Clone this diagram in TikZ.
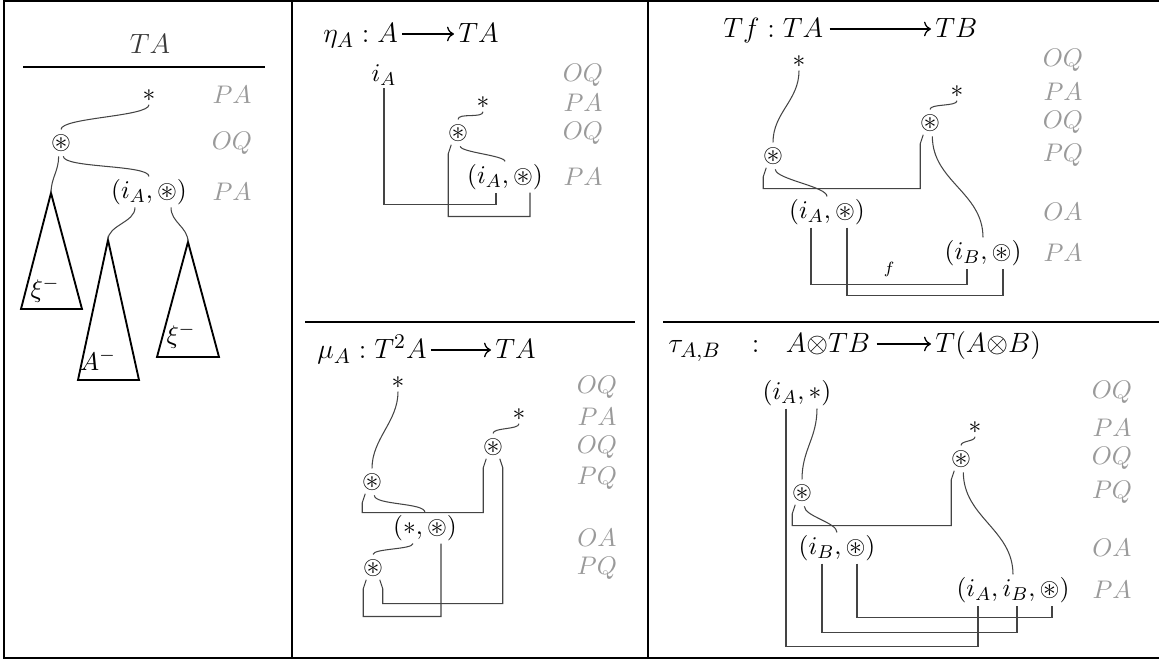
\documentclass[tikz,border=0pt]{standalone}
\usepackage{amssymb}
\usepackage{tikz}
\usetikzlibrary{calc,arrows.meta}
\definecolor{figWire}{HTML}{444444}
\definecolor{figMove}{HTML}{9A9A9A}
\definecolor{figDark}{HTML}{3A3A3A}

\begin{document}
\begin{tikzpicture}[
  % pixel grid: x goes right, y goes down
  x=0.43pt, y=-0.43pt,
  font=\fontsize{11}{13}\selectfont,
  ast/.style={circle, inner sep=0pt},
  term/.style={inner sep=1pt},
  move/.style={text=figMove, inner sep=1pt},
  wire/.style={draw=figWire, line width=0.45pt},
  tri/.style={draw=black, line width=0.8pt},
  frame/.style={draw=black, line width=0.8pt},
  head/.style={font=\fontsize{13}{15}\selectfont, inner sep=0pt, anchor=base west},
  hom/.style={line width=0.55pt, -{To[length=3pt]}},
]
\useasboundingbox (0,0) rectangle (1159,660);

% --- Frame ---
\draw[frame] (1159,1) -- (4,1) -- (4,658) -- (1159,658);
\draw[frame] (292,1) -- (292,658);
\draw[frame] (648,1) -- (648,658);
\draw[frame, line width=0.6pt] (305,322) -- (635,322);
\draw[frame, line width=1.1pt] (663,322) -- (1159,322);

% --- TA ---
\node[font=\fontsize{13}{15}\selectfont, text=figDark] (ta) at (150,44) {$TA$};
\draw[frame] (23,67) -- (265,67);
\node[term] (s1) at (149,96) {$*$};
\node[ast] (o1) at (61,143) {$\circledast$};
\node[term] (p1) at (149,192) {$(i_A,\circledast)$};
\foreach \y/\m [count=\k] in {95/PA,143/OQ,192/PA}
  \node[move] (m1-\k) at (232,\y) {$\m$};

\coordinate (x1) at (51,193);
\coordinate (x2) at (108,240);
\coordinate (x3) at (188,242);
\draw[tri] (x1) -- ++(-30,116) -- ++(61,0) -- cycle;
\draw[tri] (x2) -- ++(-30,140) -- ++(61,0) -- cycle;
\draw[tri] (x3) -- ++(-31,115) -- ++(62,0) -- cycle;
\node (x1l) at (45,290) {$\xi^-$};
\node (x2l) at (98,360) {$A^-$};
\node (x3l) at (181,336) {$\xi^-$};

\draw[wire] (s1.south) .. controls +(0,12) and +(0,-12) .. (o1.north);
\draw[wire] (o1.-80) .. controls +(0,12) and +(0,-12) .. (p1.north);
\draw[wire] (o1.-100) .. controls +(0,15) and +(0,-15) .. (x1);
\draw[wire] ($(p1.south)+(-14,0)$) .. controls +(0,15) and +(0,-15) .. (x2);
\draw[wire] ($(p1.south)+(22,0)$) .. controls +(0,15) and +(0,-15) .. (x3);

% --- eta ---
\node[head] (eta-l) at (323,43) {$\eta_A : A$};
\node[head] (eta-r) at (458,43) {$TA$};
\draw[hom] ($(eta-l.base east)+(4,-9)$) -- ($(eta-r.base west)+(-4,-9)$);
\node[term] (i2) at (384,75) {$i_A$};
\node[term] (s2) at (483,103) {$*$};
\node[ast] (o2) at (458,133) {$\circledast$};
\node[term] (p2) at (505,177) {$(i_A,\circledast)$};
\foreach \y/\m [count=\k] in {75/OQ,103/PA,133/OQ,177/PA}
  \node[move] (m2-\k) at (583,\y) {$\m$};

\draw[wire] (s2.south) .. controls +(0,7) and +(0,-7) .. (o2.north);
\draw[wire] (o2.-80) .. controls +(0,6) and +(0,-6) .. (p2.north);
\draw[wire] (i2.south) |- ($(p2.south)+(-9,12)$) -- ($(p2.south)+(-9,0)$);
\draw[wire] (o2.-120) -- ++(-3,9) |- ($(p2.south)+(25,24)$) -- ($(p2.south)+(25,0)$);

% --- Tf ---
\node[head] (tf-l) at (723,38) {$Tf : TA$};
\node[head] (tf-r) at (935,38) {$TB$};
\draw[hom] ($(tf-l.base east)+(6,-9)$) -- ($(tf-r.base west)+(-4,-9)$);
\node[term] (s3a) at (799,62) {$*$};
\node[term] (s3b) at (957,92) {$*$};
\node[ast] (o3r) at (930,123) {$\circledast$};
\node[ast] (o3l) at (773,156) {$\circledast$};
\node[term] (p3a) at (827,212) {$(i_A,\circledast)$};
\node[term] (p3b) at (983,253) {$(i_B,\circledast)$};
\foreach \y/\m [count=\k] in {60/OQ,92/PA,122/OQ,155/PQ,212/OA,253/PA}
  \node[move] (m3-\k) at (1063,\y) {$\m$};

\draw[wire] (s3a.south) .. controls +(0,30) and +(0,-30) .. (o3l.north);
\draw[wire] (s3b.south) .. controls +(0,6) and +(0,-6) .. (o3r.north);
\draw[wire] (o3r.-80) .. controls +(0,45) and +(0,-45) .. (p3b.north);
\draw[wire] (o3l.-80) .. controls +(0,10) and +(0,-10) .. (p3a.north);
\draw[wire] (o3l.-120) -- ++(-3,9) -- ++(0,12) -| ($(o3r.-120)+(-3,9)$) -- (o3r.-120);
\draw[wire] ($(p3a.south)+(-16,0)$) -- ++(0,57)
  -| node[pos=0.25, above, font=\scriptsize] (lf) {$f$} ($(p3b.south)+(-16,0)$);
\draw[wire] ($(p3a.south)+(20,0)$) -- ++(0,68) -| ($(p3b.south)+(20,0)$);

% --- mu ---
\node[head] (mu-l) at (317,359) {$\mu_A : T^2A$};
\node[head] (mu-r) at (495,359) {$TA$};
\draw[hom] ($(mu-l.base east)+(4,-9)$) -- ($(mu-r.base west)+(-4,-9)$);
\node[term] (s4a) at (398,383) {$*$};
\node[term] (s4b) at (519,415) {$*$};
\node[ast] (o4r) at (493,447) {$\circledast$};
\node[ast] (o4l) at (372,482) {$\circledast$};
\node[term] (p4) at (425,528) {$(*,\circledast)$};
\node[ast] (o4b) at (373,568) {$\circledast$};
\foreach \y/\m [count=\k] in {387/OQ,417/PA,447/OQ,478/PQ,538/OA,568/PQ}
  \node[move] (m4-\k) at (597,\y) {$\m$};

\draw[wire] (s4a.south) .. controls +(0,30) and +(0,-30) .. (o4l.north);
\draw[wire] (s4b.south) .. controls +(0,6) and +(0,-6) .. (o4r.north);
\draw[wire] (o4l.-80) .. controls +(0,10) and +(0,-10) .. (p4.north);
\draw[wire] (o4l.-120) -- ++(-3,9) -- ++(0,10) -| ($(o4r.-120)+(-3,9)$) -- (o4r.-120);
\draw[wire] ($(p4.south)+(-12,0)$) .. controls +(0,6) and +(0,-6) .. (o4b.north);
\draw[wire] ($(p4.south)+(16,0)$) -- ++(0,73) -| ($(o4b.-120)+(-3,9)$) -- (o4b.-120);
\draw[wire] (o4r.-60) -- ++(3,9) -- ++(0,136) -| ($(o4b.-60)+(3,9)$) -- (o4b.-60);

% --- tau ---
\node[head] (tau-l) at (668,353) {$\tau_{A,B}\hspace{10pt}:\hspace{8pt}A{\otimes}TB$};
\node[head] (tau-r) at (935,353) {$T(A{\otimes}B)$};
\draw[hom] ($(tau-l.base east)+(6,-9)$) -- ($(tau-r.base west)+(-4,-9)$);
\node[term] (p5a) at (797,393) {$(i_A,*)$};
\node[term] (s5) at (975,428) {$*$};
\node[ast] (o5r) at (961,459) {$\circledast$};
\node[ast] (o5l) at (802,493) {$\circledast$};
\node[term] (p5b) at (837,548) {$(i_B,\circledast)$};
\node[term] (p5c) at (1013,590) {$(i_A,i_B,\circledast)$};
\foreach \y/\m [count=\k] in {392/OQ,428/PA,458/OQ,492/PQ,548/OA,590/PA}
  \node[move] (m5-\k) at (1112,\y) {$\m$};

\draw[wire] ($(p5a.south)+(20,0)$) .. controls +(0,30) and +(0,-30) .. (o5l.north);
\draw[wire] (s5.south) .. controls +(0,5) and +(0,-5) .. (o5r.north);
\draw[wire] (o5l.-80) .. controls +(0,10) and +(0,-10) .. (p5b.north);
\draw[wire] (o5r.-80) .. controls +(0,45) and +(0,-45) .. (p5c.north);
\draw[wire] (o5l.-120) -- ++(-3,9) -- ++(0,12) -| ($(o5r.-120)+(-3,9)$) -- (o5r.-120);
\draw[wire] ($(p5a.south)+(-11,0)$) -- ++(0,238) -| ($(p5c.south)+(-35,0)$);
\draw[wire] ($(p5b.south)+(-15,0)$) -- ++(0,69) -| ($(p5c.south)+(4,0)$);
\draw[wire] ($(p5b.south)+(20,0)$) -- ++(0,54) -| ($(p5c.south)+(39,0)$);

\end{tikzpicture}
\end{document}
